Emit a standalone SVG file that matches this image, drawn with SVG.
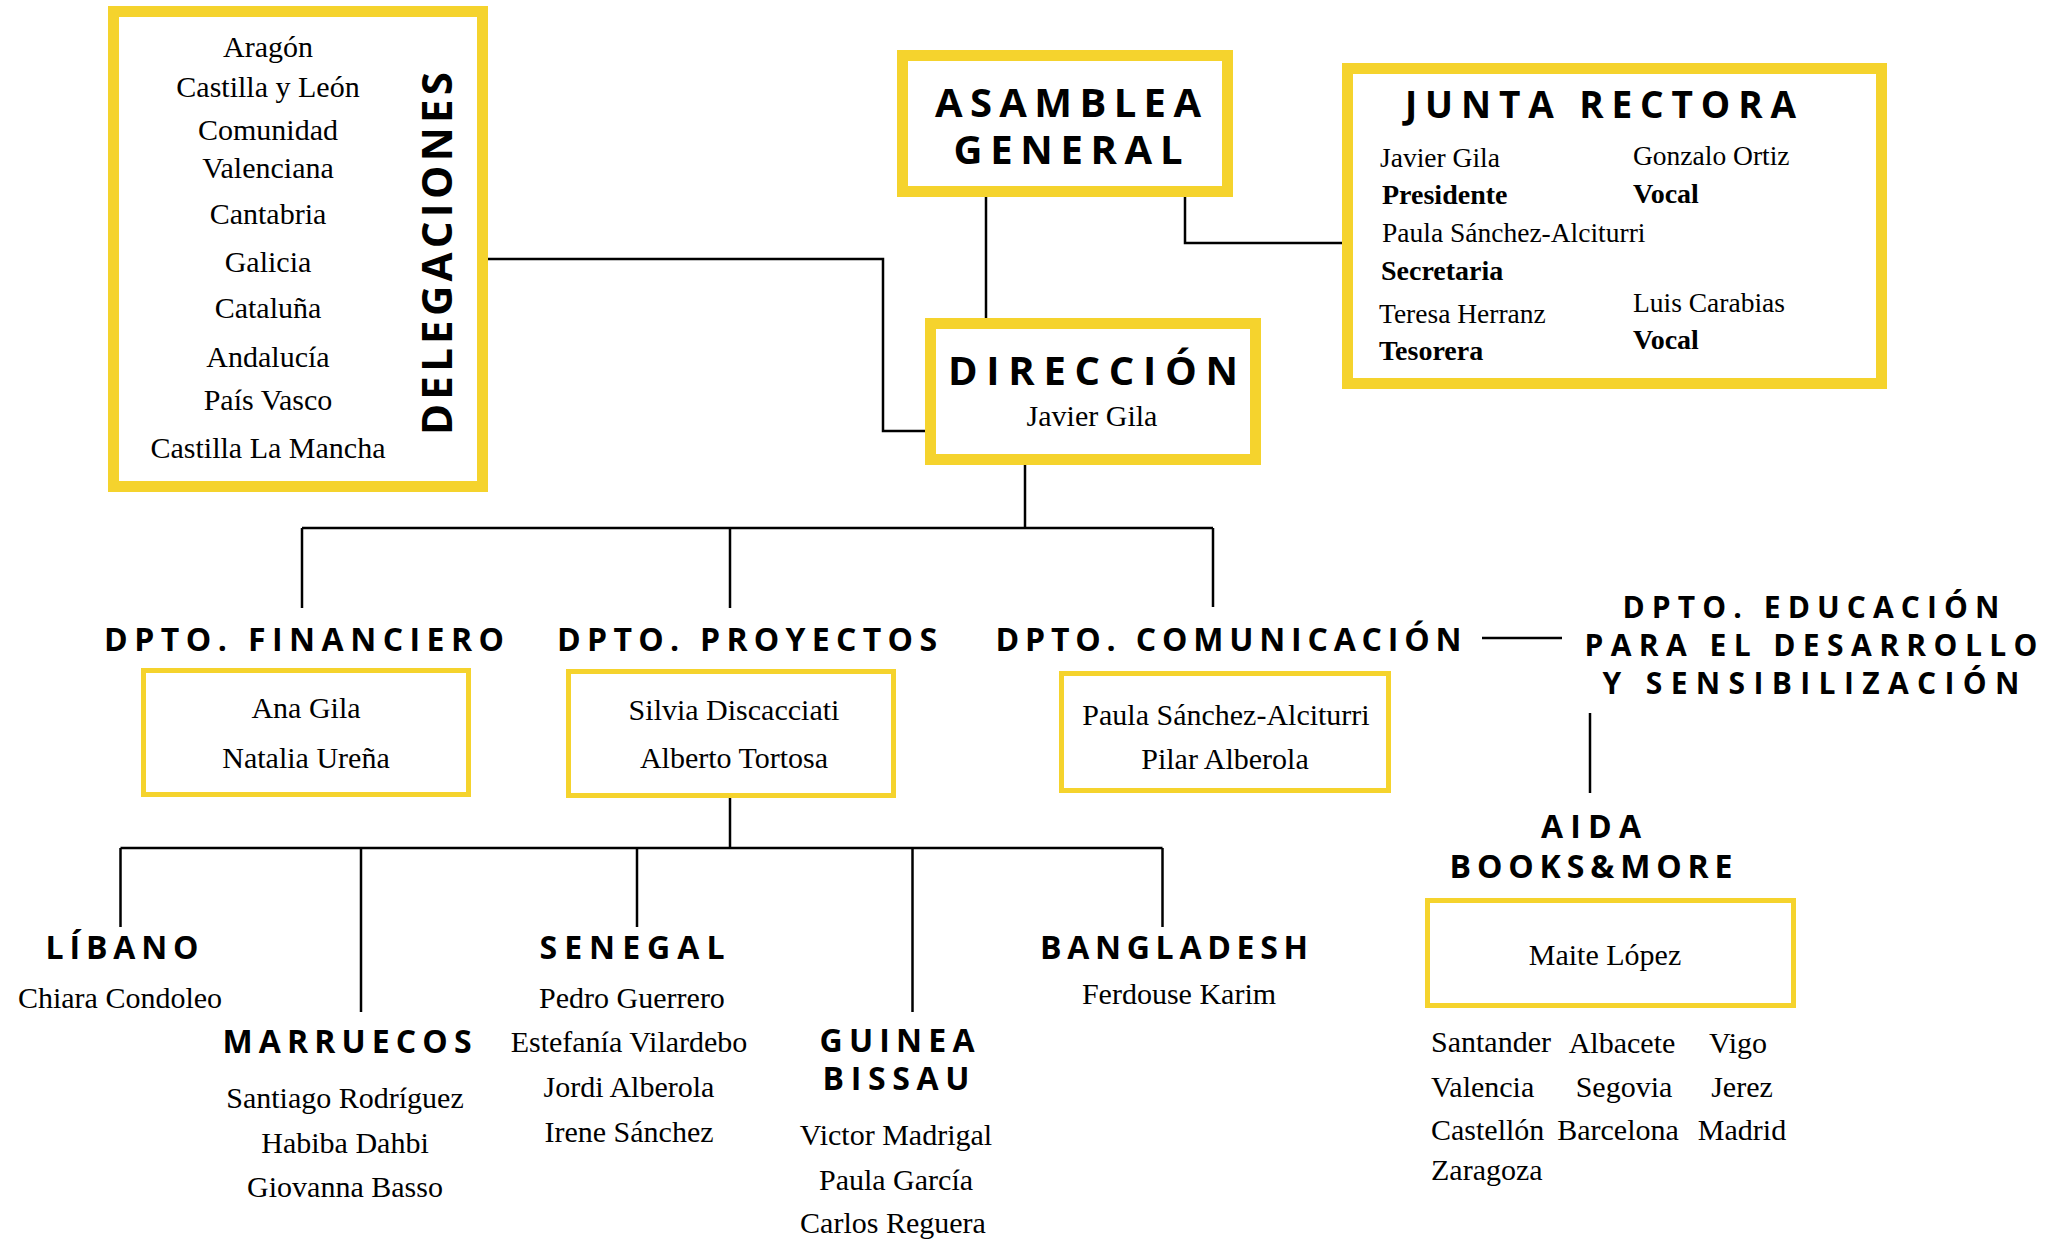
<svg xmlns="http://www.w3.org/2000/svg" width="2062" height="1240" viewBox="0 0 2062 1240">
<style>
  .bg { fill: #ffffff; }
  .box { fill: #ffffff; stroke: #F5D32D; }
  .thick { stroke-width: 11; }
  .thin { stroke-width: 5; }
  .conn { fill: none; stroke: #000000; stroke-width: 2.5; }
  .h { font-family: "Open Sans", "DejaVu Sans", sans-serif; font-weight: 700; fill: #000; }
  .s { font-family: "Liberation Serif", "DejaVu Serif", serif; font-size: 30px; fill: #000; }
  .sj { font-family: "Liberation Serif", "DejaVu Serif", serif; font-size: 27.5px; fill: #000; }
  .sb { font-family: "Liberation Serif", "DejaVu Serif", serif; font-size: 28px; font-weight: 700; fill: #000; }
  .m { text-anchor: middle; }
  .h32 { font-size: 32px; }
  .h30 { font-size: 30px; }
  .h40 { font-size: 40px; }
</style>
<rect class="bg" x="0" y="0" width="2062" height="1240"/>

<g id="connectors">
  <path class="conn" d="M488 259 H883 V431 H925"/>
  <path class="conn" d="M986 197 V318"/>
  <path class="conn" d="M1185 197 V243 H1342"/>
  <path class="conn" d="M1025 465 V528"/>
  <path class="conn" d="M302 528 H1213"/>
  <path class="conn" d="M302 528 V608"/>
  <path class="conn" d="M730 528 V608"/>
  <path class="conn" d="M1213 528 V607"/>
  <path class="conn" d="M1482 638 H1562"/>
  <path class="conn" d="M1590 713 V793"/>
  <path class="conn" d="M730 798 V848"/>
  <path class="conn" d="M120.5 848 H1162.5"/>
  <path class="conn" d="M120.5 848 V927"/>
  <path class="conn" d="M361 848 V1012"/>
  <path class="conn" d="M637 848 V927"/>
  <path class="conn" d="M912.5 848 V1012"/>
  <path class="conn" d="M1162.5 848 V927"/>
</g>

<g id="delegaciones">
  <rect class="box thick" x="113.5" y="11.5" width="369" height="475"/>
  <text class="s m" x="268" y="57">Aragón</text>
  <text class="s m" x="268" y="97">Castilla y León</text>
  <text class="s m" x="268" y="140">Comunidad</text>
  <text class="s m" x="268" y="178">Valenciana</text>
  <text class="s m" x="268" y="224">Cantabria</text>
  <text class="s m" x="268" y="272">Galicia</text>
  <text class="s m" x="268" y="318">Cataluña</text>
  <text class="s m" x="268" y="367">Andalucía</text>
  <text class="s m" x="268" y="410">País Vasco</text>
  <text class="s m" x="268" y="458">Castilla La Mancha</text>
  <text class="h m" font-size="42" transform="translate(452,253.5) rotate(-90)" x="0" y="0" textLength="363" lengthAdjust="spacing">DELEGACIONES</text>
</g>

<g id="asamblea">
  <rect class="box thick" x="902.5" y="55.5" width="325" height="136"/>
  <text class="h h40 m" x="1068" y="117" textLength="266" lengthAdjust="spacing">ASAMBLEA</text>
  <text class="h h40 m" x="1068" y="164" textLength="229" lengthAdjust="spacing">GENERAL</text>
</g>

<g id="junta">
  <rect class="box thick" x="1347.5" y="68.5" width="534" height="315"/>
  <text class="h" font-size="37" x="1405" y="118" textLength="391" lengthAdjust="spacing">JUNTA RECTORA</text>
  <text class="sj" x="1380" y="167">Javier Gila</text>
  <text class="sb" x="1382" y="204">Presidente</text>
  <text class="sj" x="1382" y="242">Paula Sánchez-Alciturri</text>
  <text class="sb" x="1381" y="280">Secretaria</text>
  <text class="sj" x="1379" y="323">Teresa Herranz</text>
  <text class="sb" x="1379" y="360">Tesorera</text>
  <text class="sj" x="1633" y="165">Gonzalo Ortiz</text>
  <text class="sb" x="1633" y="203">Vocal</text>
  <text class="sj" x="1633" y="312">Luis Carabias</text>
  <text class="sb" x="1633" y="349">Vocal</text>
</g>

<g id="direccion">
  <rect class="box thick" x="930.5" y="323.5" width="325" height="136"/>
  <text class="h h40 m" x="1093" y="385" textLength="290" lengthAdjust="spacing">DIRECCIÓN</text>
  <text class="s m" x="1092" y="426">Javier Gila</text>
</g>

<g id="dpto-financiero">
  <text class="h h32" x="104" y="651" textLength="400" lengthAdjust="spacing">DPTO. FINANCIERO</text>
  <rect class="box thin" x="143.5" y="670.5" width="325" height="124"/>
  <text class="s m" x="306" y="718">Ana Gila</text>
  <text class="s m" x="306" y="768">Natalia Ureña</text>
</g>

<g id="dpto-proyectos">
  <text class="h h32" x="557" y="651" textLength="380" lengthAdjust="spacing">DPTO. PROYECTOS</text>
  <rect class="box thin" x="568.5" y="671.5" width="325" height="124"/>
  <text class="s m" x="734" y="720">Silvia Discacciati</text>
  <text class="s m" x="734" y="768">Alberto Tortosa</text>
</g>

<g id="dpto-comunicacion">
  <text class="h h32" x="995.5" y="651" textLength="466" lengthAdjust="spacing">DPTO. COMUNICACIÓN</text>
  <rect class="box thin" x="1061.5" y="673.5" width="327" height="117"/>
  <text class="s m" x="1226" y="725">Paula Sánchez-Alciturri</text>
  <text class="s m" x="1225" y="769">Pilar Alberola</text>
</g>

<g id="dpto-educacion">
  <text class="h h30 m" x="1811" y="618" textLength="377" lengthAdjust="spacing">DPTO. EDUCACIÓN</text>
  <text class="h h30 m" x="1811" y="656" textLength="453" lengthAdjust="spacing">PARA EL DESARROLLO</text>
  <text class="h h30 m" x="1811" y="694" textLength="417" lengthAdjust="spacing">Y SENSIBILIZACIÓN</text>
</g>

<g id="aida">
  <text class="h h32 m" x="1591" y="838" textLength="100" lengthAdjust="spacing">AIDA</text>
  <text class="h h32 m" x="1591" y="878" textLength="283" lengthAdjust="spacing">BOOKS&amp;MORE</text>
  <rect class="box thin" x="1427.5" y="900.5" width="366" height="105"/>
  <text class="s m" x="1605" y="965">Maite López</text>
  <text class="s" x="1431" y="1052">Santander</text>
  <text class="s" x="1431" y="1097">Valencia</text>
  <text class="s" x="1431" y="1140">Castellón</text>
  <text class="s" x="1431" y="1180">Zaragoza</text>
  <text class="s m" x="1622" y="1053">Albacete</text>
  <text class="s m" x="1624" y="1097">Segovia</text>
  <text class="s m" x="1618" y="1140">Barcelona</text>
  <text class="s m" x="1738" y="1053">Vigo</text>
  <text class="s m" x="1742" y="1097">Jerez</text>
  <text class="s m" x="1742" y="1140">Madrid</text>
</g>

<g id="libano">
  <text class="h h32 m" x="122" y="959" textLength="153" lengthAdjust="spacing">LÍBANO</text>
  <text class="s m" x="120" y="1008">Chiara Condoleo</text>
</g>

<g id="marruecos">
  <text class="h h32 m" x="347" y="1053" textLength="249" lengthAdjust="spacing">MARRUECOS</text>
  <text class="s m" x="345" y="1108">Santiago Rodríguez</text>
  <text class="s m" x="345" y="1153">Habiba Dahbi</text>
  <text class="s m" x="345" y="1197">Giovanna Basso</text>
</g>

<g id="senegal">
  <text class="h h32 m" x="632" y="959" textLength="185" lengthAdjust="spacing">SENEGAL</text>
  <text class="s m" x="632" y="1008">Pedro Guerrero</text>
  <text class="s m" x="629" y="1052">Estefanía Vilardebo</text>
  <text class="s m" x="629" y="1097">Jordi Alberola</text>
  <text class="s m" x="629" y="1142">Irene Sánchez</text>
</g>

<g id="guinea-bissau">
  <text class="h h32 m" x="897" y="1052" textLength="155" lengthAdjust="spacing">GUINEA</text>
  <text class="h h32 m" x="896" y="1090" textLength="147" lengthAdjust="spacing">BISSAU</text>
  <text class="s m" x="896" y="1145">Victor Madrigal</text>
  <text class="s m" x="896" y="1190">Paula García</text>
  <text class="s m" x="893" y="1233">Carlos Reguera</text>
</g>

<g id="bangladesh">
  <text class="h h32 m" x="1174" y="959" textLength="268" lengthAdjust="spacing">BANGLADESH</text>
  <text class="s m" x="1179" y="1004">Ferdouse Karim</text>
</g>
</svg>
